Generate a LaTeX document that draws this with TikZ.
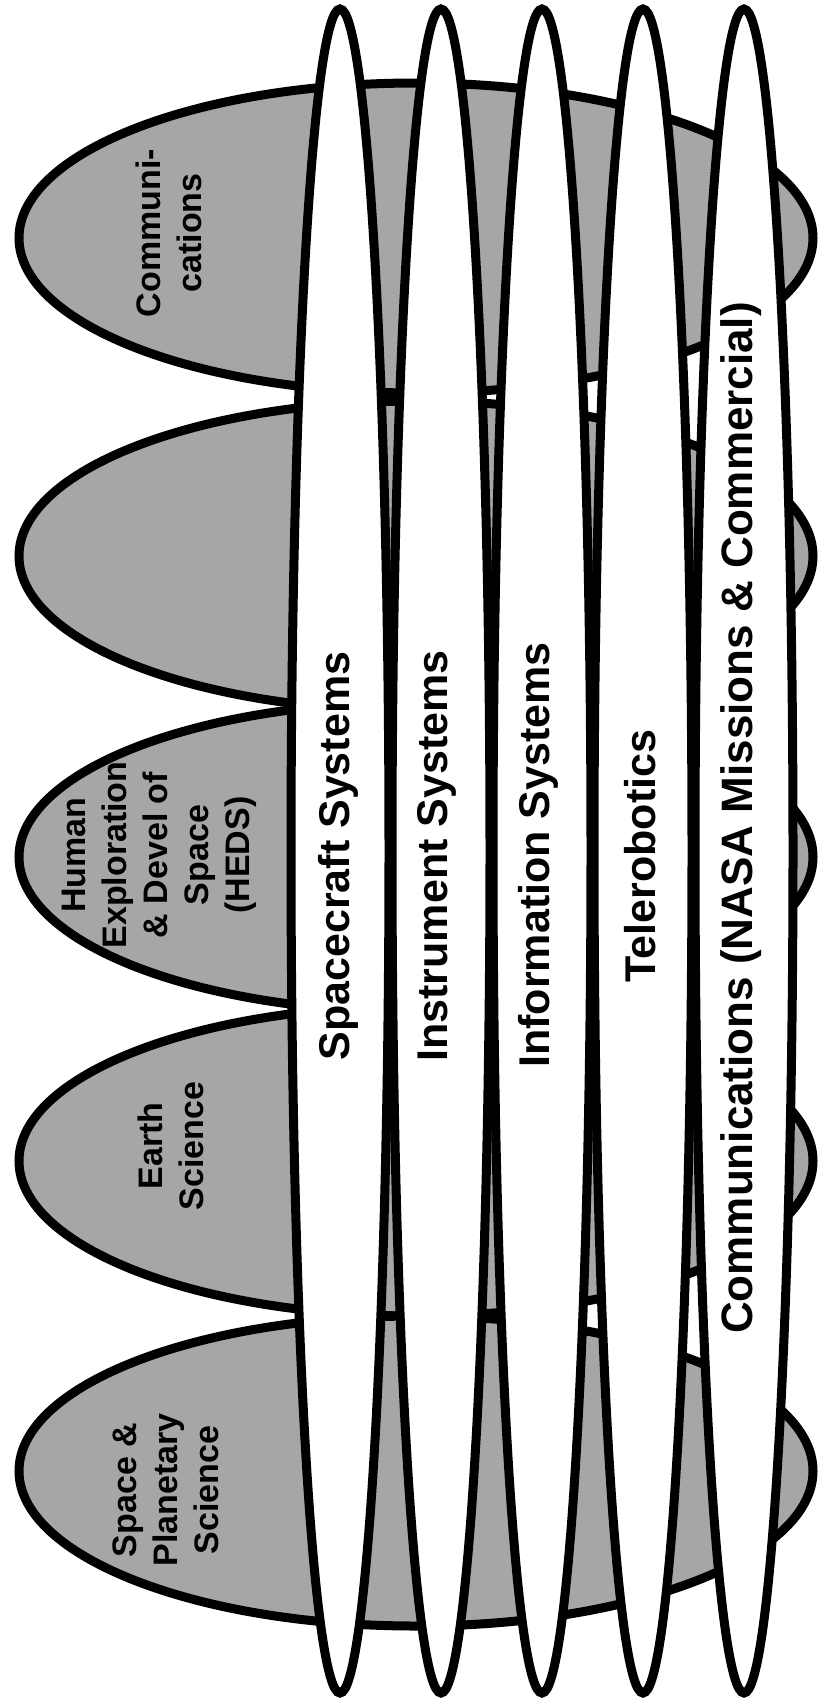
\documentclass[tikz,border=0pt]{standalone}
\usepackage{fontspec}
\setmainfont{Liberation Sans}
\begin{document}
\begin{tikzpicture}[x=1pt,y=-1pt,
  area/.style={draw=black,line width=9pt,fill=black!35},
  band/.style={draw=black,line width=9pt,fill=white},
  bandtext/.style={rotate=90,inner sep=0pt,font=\bfseries\fontsize{43}{50}\selectfont},
  areatext/.style={rotate=90,inner sep=0pt,align=center,font=\bfseries\fontsize{34}{41}\selectfont}]
\useasboundingbox (0,0) rectangle (817,1708);
\fill[white] (0,0) rectangle (817,1708);
% grey mission-area ellipses
\foreach \cy in {238,556,857,1161,1471}
  \draw[area] (416,\cy) ellipse [x radius=397pt, y radius=155pt];
% white technology bands
\foreach \cx in {340,441,542,643,744}
  \draw[band] (\cx,851) ellipse [x radius=49pt, y radius=842pt];
% area labels
\node[areatext] (comm)  at (169,233)  {Communi-\\cations};
\node[areatext] (heds)  at (159,855)  {Human\\Exploration\\\& Devel of\\Space\\(HEDS)};
\node[areatext] (earth) at (171,1146) {Earth\\Science};
\node[areatext] (space) at (166,1490) {Space \&\\Planetary\\Science};
% band labels
\node[bandtext] (sc)  at (338,856) {Spacecraft Systems};
\node[bandtext] (ins) at (437,856) {Instrument Systems};
\node[bandtext] (inf) at (538,855) {Information Systems};
\node[bandtext] (tel) at (640,856) {Telerobotics};
\node[bandtext,font=\bfseries\fontsize{44}{50}\selectfont] (com) at (741,818) {Communications (NASA Missions \& Commercial)};
\end{tikzpicture}
\end{document}
